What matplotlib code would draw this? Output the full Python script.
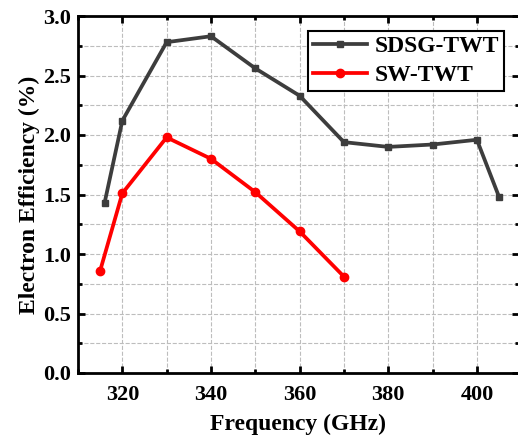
import matplotlib

matplotlib.use("Agg")
import matplotlib.pyplot as plt  # noqa: E402
from matplotlib.ticker import MultipleLocator  # noqa: E402

# values
sdsg_freq = [316, 320, 330, 340, 350, 360, 370, 380, 390, 400, 405]
sdsg_eff = [1.43, 2.12, 2.78, 2.83, 2.56, 2.33, 1.94, 1.90, 1.92, 1.96, 1.48]
sw_freq = [315, 320, 330, 340, 350, 360, 370]
sw_eff = [0.86, 1.51, 1.98, 1.80, 1.52, 1.19, 0.81]

plt.rcParams["font.family"] = ["Liberation Serif", "DejaVu Serif"]
plt.rcParams["font.weight"] = "bold"

fig = plt.figure(figsize=(5.18, 4.41), dpi=100)
ax = fig.add_axes([78 / 518, 1 - 373 / 441, 441 / 518, 357 / 441])

ax.plot(sdsg_freq, sdsg_eff, color="#3d3d3d", lw=2.7, marker="s", ms=5,
        label="SDSG-TWT", zorder=3)
ax.plot(sw_freq, sw_eff, color="#ff0000", lw=2.7, marker="o", ms=6,
        label="SW-TWT", zorder=3)

ax.set_xlim(310, 409.5)
ax.set_ylim(0, 3.0)
ax.xaxis.set_major_locator(MultipleLocator(20))
ax.xaxis.set_minor_locator(MultipleLocator(10))
ax.yaxis.set_major_locator(MultipleLocator(0.5))
ax.yaxis.set_minor_locator(MultipleLocator(0.25))
ax.yaxis.set_major_formatter(lambda v, pos: f"{v:.1f}")

ax.grid(True, which="both", ls="--", color="#bdbdbd", lw=0.8)
ax.tick_params(which="both", direction="in", top=True, right=True,
               labelsize=16, width=2)
ax.tick_params(which="major", length=5)
ax.tick_params(which="minor", length=3)
ax.tick_params(axis="x", which="major", pad=9)
ax.tick_params(axis="y", which="major", pad=5)
for lab in ax.get_xticklabels() + ax.get_yticklabels():
    lab.set_fontweight("bold")
for s in ax.spines.values():
    s.set_linewidth(2)

ax.set_xlabel("Frequency (GHz)", fontsize=17, fontweight="bold", labelpad=6)
ax.set_ylabel("Electron Efficiency (%)", fontsize=17, fontweight="bold",
              labelpad=2)

leg = ax.legend(loc="upper right", bbox_to_anchor=(0.965, 0.958),
                prop={"size": 17, "weight": "bold"}, fancybox=False,
                framealpha=1, edgecolor="black", handlelength=2.3,
                borderpad=0.2, labelspacing=0.32, handletextpad=0.3,
                borderaxespad=0)
leg.get_frame().set_linewidth(1.5)

fig.savefig("out.png", dpi=100)
plt.close(fig)
